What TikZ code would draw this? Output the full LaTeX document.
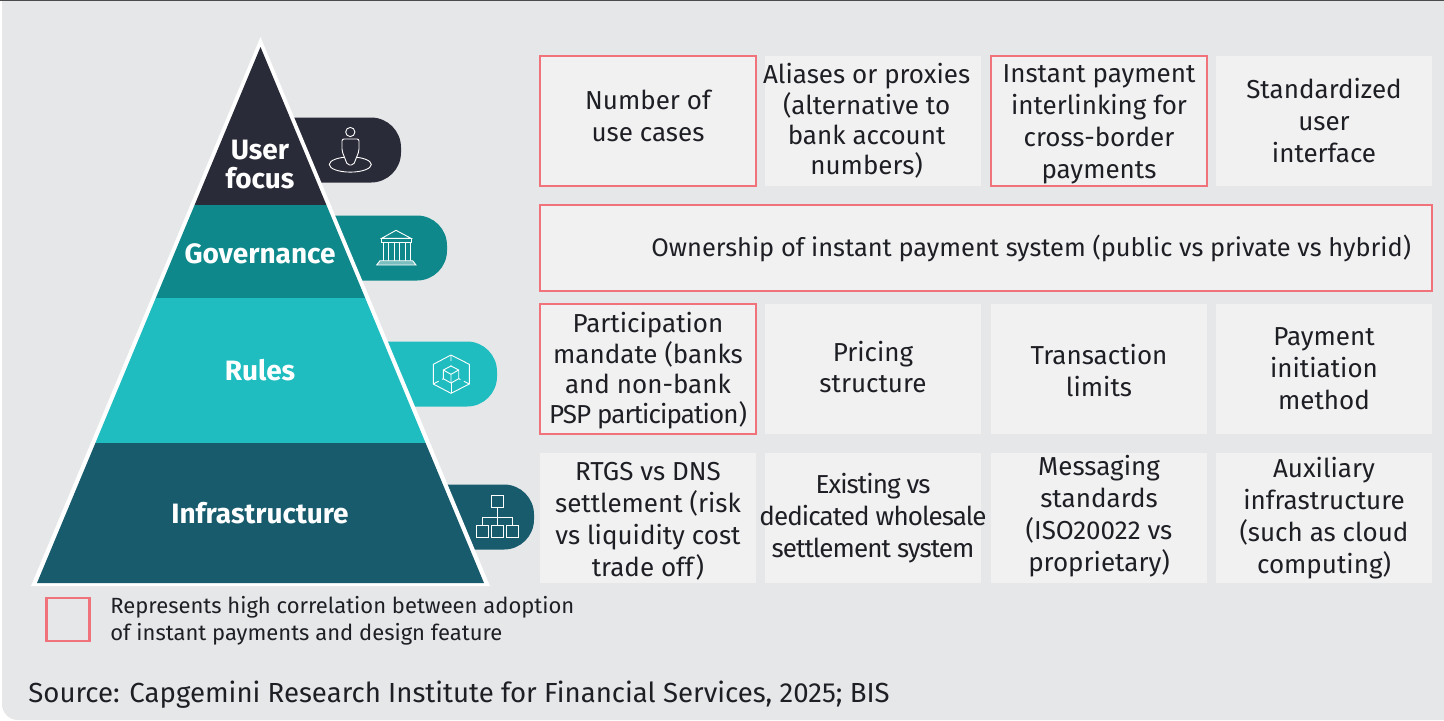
\documentclass[tikz,border=0pt]{standalone}
\usepackage{fontspec}
\setmainfont{Fira Sans}
\newfontfamily\tightfont{Fira Sans}[LetterSpace=-3.5]
\usetikzlibrary{positioning}
\definecolor{panelgrey}{HTML}{E6E7E9}
\definecolor{cellgrey}{HTML}{F1F1F2}
\definecolor{markpink}{HTML}{F0727A}
\definecolor{inkblack}{HTML}{1E1F24}
\definecolor{userdark}{HTML}{2A2B38}
\definecolor{govteal}{HTML}{0E888B}
\definecolor{rulesaqua}{HTML}{1FBCC0}
\definecolor{infranavy}{HTML}{185B6C}
\newcommand{\cellgap}{4.5pt}
\newcommand{\widegap}{5pt}
\tikzset{
    cell/.style={fill=cellgrey, text=inkblack, minimum width=108pt, minimum height=65pt, inner sep=0pt, outer sep=0pt, align=center, font=\fontsize{13}{16}\selectfont},
    celltext/.style={text=inkblack, inner sep=0pt, outer sep=0pt, align=center, font=\fontsize{13}{16}\selectfont},
    tighttext/.style={celltext, font=\fontsize{13}{15.2}\selectfont},
    marked/.style={draw=markpink, line width=1.1pt},
    tab/.style={rounded corners=15pt, minimum height=32.5pt, inner sep=0pt, outer sep=0pt, anchor=east},
    level/.style={text=white, align=center, font=\fontsize{14}{14.5}\selectfont\bfseries},
    icon/.style={draw=white, line width=0.45pt},
}

\begin{document}
\begin{tikzpicture}[x=0.5pt, y=-0.5pt]
    \useasboundingbox (0,0) rectangle (1444,720);
    \fill[panelgrey] (1444,1) -- (2,1) [rounded corners=8pt] -- (2,720) [sharp corners] -- (1444,720) -- cycle;
    \draw[color=black!70, line width=0.8pt] (0,0.6) -- (1444,0.6);

    \node[tab, fill=userdark, minimum width=78pt] (taguser) at (401,150) {};
    \node[tab, fill=govteal, minimum width=78.5pt] (taggov) at (447,248) {};
    \node[tab, fill=rulesaqua, minimum width=78.5pt] (tagrules) at (497,374) {};
    \node[tab, fill=infranavy, minimum width=67pt] (taginfra) at (534,517) {};

    \fill[white] (260.5,37) -- (490,586) -- (31,586) -- cycle;
    \fill[userdark] (260.5,47) -- (326.4,205) -- (194.6,205) -- cycle;
    \fill[govteal] (194.6,205) -- (326.4,205) -- (365.2,298) -- (155.8,298) -- cycle;
    \fill[rulesaqua] (155.8,298) -- (365.2,298) -- (425.6,443) -- (95.4,443) -- cycle;
    \fill[infranavy] (95.4,443) -- (425.6,443) -- (484,583) -- (37,583) -- cycle;

    \node[level] (user) at (260,165) {User\\focus};
    \node[level] (gov) at (260,254) {Governance};
    \node[level] (rules) at (260,370) {Rules};
    \node[level] (infra) at (260,513) {Infrastructure};

    \draw[icon] (350.3,132) circle (2.3pt);
    \draw[icon, fill=userdark] (350.3,164.5) ellipse (10.5pt and 3.8pt);
    \draw[icon, fill=userdark, rounded corners=1pt] (342,151) -- (342,139) -- (359,139) -- (359,151) -- (353.5,165) -- (347.5,165) -- cycle;

    \draw[icon] (381.7,238.3) -- (396,230.3) -- (411,238.3) -- cycle;
    \draw[icon] (381.5,238.3) rectangle (411.5,242.3);
    \foreach \colx in {383.3,388.3,394,399.3,405,410} {
        \draw[icon] (\colx,242.3) -- (\colx,260.7);
    }
    \draw[icon, fill=white!45!govteal] (380,260.7) -- (412.7,260.7) -- (416,265) -- (376.7,265) -- cycle;

    \draw[icon] (451,355) -- (469.3,364.3) -- (469.3,384) -- (451,393.3) -- (433.3,384) -- (433.3,364.3) -- cycle;
    \draw[icon] (451,366) -- (458.7,370) -- (458.7,378.7) -- (451,383) -- (443.3,378.7) -- (443.3,370) -- cycle;
    \draw[icon] (443.3,370) -- (451,374.3) -- (458.7,370) (451,374.3) -- (451,383);
    \draw[icon] (451,383) -- (451,393.3);
    \draw[icon, densely dashed] (451,355) -- (451,366) (433.3,384) -- (443.3,378.7) (469.3,384) -- (458.7,378.7);

    \draw[icon] (491.7,495.7) rectangle (503.7,507);
    \draw[icon] (476.7,525.7) rectangle (488,537);
    \draw[icon] (491.7,525.7) rectangle (503.7,537);
    \draw[icon] (506.5,525.7) rectangle (518.5,537);
    \draw[icon] (497.7,507) -- (497.7,525.7);
    \draw[icon] (482.3,525.7) -- (482.3,517.7) -- (512.5,517.7) -- (512.5,525.7);

    \node[cell, marked, anchor=north west] (cases) at (540,56) {};
    \node[celltext, yshift=2.5pt] (casestext) at (cases) {Number of\\use cases};
    \node[cell, right=\cellgap of cases] (aliases) {};
    \node[tighttext, xshift=-3.2pt] (aliasestext) at (aliases) {Aliases or proxies\\(alternative to\\bank account\\numbers)};
    \node[cell, marked, right=\widegap of aliases] (interlink) {};
    \node[celltext, yshift=-1.5pt] (interlinktext) at (interlink) {Instant payment\\interlinking for\\cross-border\\payments};
    \node[cell, right=\cellgap of interlink] (standard) {Standardized\\user\\interface};

    \node[cell, marked, anchor=north west, minimum width=446pt, minimum height=43pt] (owner) at (540,205) {};
    \node[celltext, anchor=east, font=\fontsize{12.7}{16}\selectfont] (ownertext) at (1411,248) {Ownership of instant payment system (public vs private vs hybrid)};

    \node[cell, marked, anchor=north west] (mandate) at (540,304) {};
    \node[tighttext, yshift=-1pt] (mandatetext) at (mandate) {Participation\\mandate (banks\\and non-bank\\{\tightfont PSP participation})};
    \node[cell, right=\cellgap of mandate] (pricing) {};
    \node[celltext, yshift=1pt] (pricingtext) at (pricing) {Pricing\\structure};
    \node[cell, right=\widegap of pricing] (limits) {};
    \node[celltext, yshift=-0.5pt] (limitstext) at (limits) {Transaction\\limits};
    \node[cell, right=\cellgap of limits] (method) {Payment\\initiation\\method};

    \node[cell, anchor=north west] (rtgs) at (540,453) {};
    \node[celltext, yshift=-1.5pt] (rtgstext) at (rtgs) {RTGS vs DNS\\settlement (risk\\vs liquidity cost\\trade off)};
    \node[cell, right=\cellgap of rtgs] (existing) {};
    \node[celltext, font=\fontsize{13}{16}\selectfont\tightfont] (existingtext) at (existing) {Existing vs\\dedicated wholesale\\settlement system};
    \node[cell, right=\widegap of existing] (messaging) {};
    \node[celltext, yshift=1pt] (messagingtext) at (messaging) {Messaging\\standards\\(ISO20022 vs\\proprietary)};
    \node[cell, right=\cellgap of messaging] (auxiliary) {Auxiliary\\infrastructure\\(such as cloud\\computing)};

    \node[draw=markpink, line width=1.1pt, minimum size=21.5pt, inner sep=0pt, outer sep=0pt] (legendbox) at (68,619.5) {};
    \node[anchor=west, text=inkblack, align=left, inner sep=0pt, font=\fontsize{11}{13.5}\selectfont] (legendtext) at (110,620.5) {Represents high correlation between adoption\\of instant payments and design feature};
    \node[anchor=west, text=inkblack, inner sep=0pt, font=\fontsize{13.8}{16}\selectfont] (source) at (28,695) {Source: Capgemini Research Institute for Financial Services, 2025; BIS};
\end{tikzpicture}
\end{document}
